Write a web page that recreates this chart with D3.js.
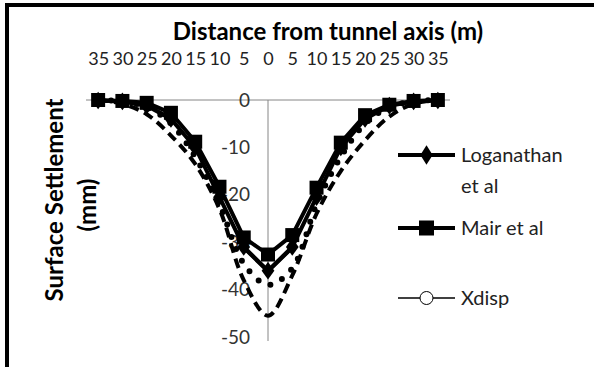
<!DOCTYPE html>
<html>
<head>
<meta charset="utf-8">
<script src="https://cdn.jsdelivr.net/npm/d3@7"></script>
<style>
  body { margin: 0; background: #fff; }
  svg { display: block; font-family: Lato, "Open Sans", sans-serif; }
</style>
</head>
<body>
<div id="chart"></div>
<script>
// distance from tunnel axis (m), shown as categories like the original sheet
const distLabels = ['35', '30', '25', '20', '15', '10', '5', '0', '5', '10', '15', '20', '25', '30', '35'];

// surface settlement (mm)
const loganathan = [-0.1, -0.3, -1.2, -4, -10, -20.5, -31, -36, -31, -20.5, -10, -4, -1.2, -0.3, -0.1];
const mair = [0, -0.2, -0.6, -2.7, -8.8, -18.3, -29, -32.6, -28.5, -18.5, -9, -3.2, -1, -0.2, 0];
const xdisp = [0, -0.2, -1, -3.5, -10, -20, -31.5, -36.5, -31.5, -20, -10, -3.5, -1, -0.2, 0];
const series4 = [0, -0.8, -3, -7.5, -13.5, -23, -38, -45.5, -37, -24, -15, -8.5, -3.5, -0.8, 0];
const series5 = [0, -0.3, -1.5, -5, -12, -22, -34.5, -39, -35.5, -22, -12, -5, -1.5, -0.3, 0];

const yTicks = [0, -10, -20, -30, -40, -50];

const width = 594, height = 367;
const svg = d3.select('#chart').append('svg')
  .attr('width', width)
  .attr('height', height);

// outer frame, only top and left edges are inside the picture
svg.append('rect')
  .attr('x', 7).attr('y', 5)
  .attr('width', 700).attr('height', 500)
  .attr('fill', 'none')
  .attr('stroke', '#000')
  .attr('stroke-width', 4);

const x = d3.scalePoint()
  .domain(distLabels.map((d, i) => i))
  .range([86, 450])
  .padding(0.5);

const y = d3.scaleLinear()
  .domain([-50, 0])
  .range([337, 100]);

// axes lines
svg.append('line')
  .attr('x1', 86).attr('x2', 450)
  .attr('y1', y(0)).attr('y2', y(0))
  .attr('stroke', '#868686').attr('stroke-width', 1);
svg.append('line')
  .attr('x1', x(7)).attr('x2', x(7))
  .attr('y1', y(0)).attr('y2', y(-50) + 4)
  .attr('stroke', '#868686').attr('stroke-width', 1);

// category labels sit above the plot
const xAxis = d3.axisTop(x)
  .tickFormat(i => distLabels[i])
  .tickSize(0)
  .tickPadding(0);
const gx = svg.append('g')
  .attr('transform', 'translate(0,65)')
  .call(xAxis);
gx.select('.domain').remove();
gx.selectAll('text')
  .attr('y', 0).attr('dy', 0)
  .attr('font-size', 18)
  .attr('font-family', 'Lato, sans-serif')
  .attr('fill', '#222');

const yAxis = d3.axisLeft(y)
  .tickValues(yTicks)
  .tickFormat(d3.format('d'))
  .tickSize(0)
  .tickPadding(18);
const gy = svg.append('g')
  .attr('transform', `translate(${x(7)},0)`)
  .call(yAxis);
gy.select('.domain').remove();
gy.selectAll('text')
  .attr('font-size', 19)
  .attr('font-family', 'Lato, sans-serif')
  .attr('fill', '#333')
  .text(d => d === 0 ? '0' : '-' + Math.abs(d));

// titles
svg.append('text')
  .attr('x', 328).attr('y', 40)
  .attr('text-anchor', 'middle')
  .attr('font-size', 24)
  .attr('font-weight', 'bold')
  .text('Distance from tunnel axis (m)');

const yTitle = svg.append('text')
  .attr('transform', 'translate(0,200) rotate(-90)')
  .attr('text-anchor', 'middle')
  .attr('font-size', 24)
  .attr('font-weight', 'bold');
yTitle.append('tspan').attr('x', 0).attr('y', 63).text('Surface Settlement');
yTitle.append('tspan').attr('x', -5).attr('y', 96).text('(mm)');

const straight = d3.line()
  .x((d, i) => x(i))
  .y(d => y(d));
const smooth = d3.line()
  .x((d, i) => x(i))
  .y(d => y(d))
  .curve(d3.curveCatmullRom);

// dashed curve
svg.append('path')
  .datum(series4)
  .attr('d', smooth)
  .attr('fill', 'none')
  .attr('stroke', '#000')
  .attr('stroke-width', 4)
  .attr('stroke-dasharray', '10,6');

// round dot curve
svg.append('path')
  .datum(series5)
  .attr('d', smooth)
  .attr('fill', 'none')
  .attr('stroke', '#000')
  .attr('stroke-width', 6)
  .attr('stroke-linecap', 'round')
  .attr('stroke-dasharray', '0,13');

// Xdisp thin line with open circles (mostly hidden under the others)
svg.append('path')
  .datum(xdisp)
  .attr('d', straight)
  .attr('fill', 'none')
  .attr('stroke', '#000')
  .attr('stroke-width', 1.5);

// Loganathan
svg.append('path')
  .datum(loganathan)
  .attr('d', straight)
  .attr('fill', 'none')
  .attr('stroke', '#000')
  .attr('stroke-width', 4);
const diamond = d3.symbol().type(d3.symbolDiamond).size(90);
svg.selectAll('path.logMark')
  .data(loganathan)
  .join('path')
  .attr('class', 'logMark')
  .attr('d', diamond)
  .attr('transform', (d, i) => `translate(${x(i)},${y(d)}) scale(1.25,1)`)
  .attr('fill', '#000');

// Mair
svg.append('path')
  .datum(mair)
  .attr('d', straight)
  .attr('fill', 'none')
  .attr('stroke', '#000')
  .attr('stroke-width', 4);
const sq = 14;
svg.selectAll('rect.mairMark')
  .data(mair)
  .join('rect')
  .attr('class', 'mairMark')
  .attr('x', (d, i) => x(i) - sq / 2)
  .attr('y', d => y(d) - sq / 2)
  .attr('width', sq).attr('height', sq)
  .attr('fill', '#000');

// legend
const legend = svg.append('g').attr('transform', 'translate(398,0)');
const lx1 = 0, lx2 = 57, ltext = 63;

legend.append('line')
  .attr('x1', lx1).attr('x2', lx2).attr('y1', 155).attr('y2', 155)
  .attr('stroke', '#000').attr('stroke-width', 4);
legend.append('path')
  .attr('d', diamond)
  .attr('transform', `translate(${(lx1 + lx2) / 2},155) scale(1.2,1.1)`);
const logText = legend.append('text').attr('font-size', 20).attr('fill', '#222');
logText.append('tspan').attr('x', ltext).attr('y', 162).text('Loganathan');
logText.append('tspan').attr('x', ltext).attr('y', 193).text('et al');

legend.append('line')
  .attr('x1', lx1).attr('x2', lx2).attr('y1', 228).attr('y2', 228)
  .attr('stroke', '#000').attr('stroke-width', 4);
legend.append('rect')
  .attr('x', (lx1 + lx2) / 2 - 7.5).attr('y', 228 - 7.5)
  .attr('width', 15).attr('height', 15);
legend.append('text')
  .attr('x', ltext).attr('y', 235)
  .attr('font-size', 20).attr('fill', '#222')
  .text('Mair et al');

legend.append('line')
  .attr('x1', lx1).attr('x2', lx2).attr('y1', 298).attr('y2', 298)
  .attr('stroke', '#000').attr('stroke-width', 1.5);
legend.append('circle')
  .attr('cx', (lx1 + lx2) / 2).attr('cy', 298).attr('r', 6.5)
  .attr('fill', '#fff').attr('stroke', '#000').attr('stroke-width', 1);
legend.append('text')
  .attr('x', ltext).attr('y', 305)
  .attr('font-size', 20).attr('fill', '#222')
  .text('Xdisp');
</script>
</body>
</html>
